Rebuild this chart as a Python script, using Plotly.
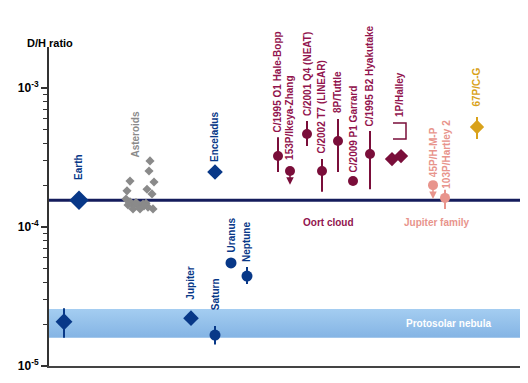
import math
import plotly.graph_objects as go

# ---------------- data ----------------
BLUE = "#083888"
GRAY = "#8a8a8a"
OORT = "#7a0e3a"
OORT_TXT = "#92144e"
JFC = "#e8948c"
GOLD = "#d9a21b"

earth_dh = 1.56e-4
protosolar_band = [1.6e-5, 2.57e-5]

# planets / moons (x = slot position along the hidden horizontal axis)
body_names = ["Protosolar", "Earth", "Jupiter", "Enceladus", "Saturn", "Uranus", "Neptune"]
body_x = [15, 30, 142, 166, 166, 182, 198]
body_dh = [2.08e-5, 1.56e-4, 2.21e-5, 2.49e-4, 1.67e-5, 5.51e-5, 4.44e-5]
body_hi = [2.6e-5, None, None, None, 1.94e-5, None, 5.15e-5]
body_lo = [1.6e-5, None, None, None, 1.43e-5, None, 3.89e-5]
body_symbol = ["diamond", "diamond", "diamond", "diamond", "circle", "circle", "circle"]
body_size = [13, 15, 12, 12, 11, 11, 11]
body_label_bottom = [None, 2.11e-4, 2.88e-5, 2.84e-4, 2.44e-5, 6.3e-5, 5.42e-5]

# asteroids
ast_x = [101, 100, 81, 105, 98, 78, 103, 77, 81, 84, 88, 91, 94, 97, 99, 84, 91, 104, 79, 87, 95]
ast_dh = [2.99e-4, 2.53e-4, 2.14e-4, 2.11e-4, 1.87e-4, 1.82e-4, 1.73e-4, 1.59e-4,
          1.52e-4, 1.44e-4, 1.46e-4, 1.41e-4, 1.46e-4, 1.48e-4, 1.39e-4, 1.35e-4,
          1.35e-4, 1.35e-4, 1.44e-4, 1.50e-4, 1.42e-4]
ast_label_x = 87

# Oort cloud comets
oort_names = ["C/1995 O1 Hale-Bopp", "153P/Ikeya-Zhang", "C/2001 Q4 (NEAT)", "C/2002 T7 (LINEAR)",
              "8P/Tuttle", "C/2009 P1 Garrard", "C/1995 B2 Hyakutake"]
oort_x = [229, 241, 258, 273, 289, 304, 321]
oort_dh = [3.24e-4, 2.53e-4, 4.67e-4, 2.53e-4, 4.16e-4, 2.14e-4, 3.35e-4]
oort_hi = [4.43e-4, None, 5.79e-4, 3.08e-4, 5.98e-4, None, 4.91e-4]
oort_lo = [2.49e-4, None, 3.83e-4, 1.79e-4, 2.49e-4, None, 1.87e-4]
oort_upper_limit = [False, True, False, False, False, False, False]
oort_label_bottom = [4.59e-4, 2.94e-4, 6.08e-4, 3.24e-4, 6.4e-4, 2.37e-4, 5.07e-4]

halley_x = [343, 352]
halley_dh = [3.08e-4, 3.24e-4]
halley_bracket = [4.3e-4, 5.6e-4]

# Jupiter-family comets
jfc_names = ["45P/H-M-P", "103P/Hartley 2"]
jfc_x = [384, 396]
jfc_dh = [2.0e-4, 1.62e-4]
jfc_hi = [None, 1.85e-4]
jfc_lo = [None, 1.35e-4]
jfc_upper_limit = [True, False]
jfc_label_bottom = [2.21e-4, 1.81e-4]

c67p_x = [428]
c67p_dh = [5.24e-4]
c67p_hi = [6.18e-4]
c67p_lo = [4.3e-4]

X_MAX = 471


def err(vals, hi, lo):
    plus = [(h - v) if h is not None else 0 for v, h in zip(vals, hi)]
    minus = [(v - l) if l is not None else 0 for v, l in zip(vals, lo)]
    return plus, minus


fig = go.Figure()

# protosolar band
fig.add_trace(go.Scatter(
    x=[0, X_MAX, X_MAX, 0, 0],
    y=[protosolar_band[0], protosolar_band[0], protosolar_band[1], protosolar_band[1], protosolar_band[0]],
    fill="toself", mode="lines", line=dict(width=0),
    fillgradient=dict(type="vertical", colorscale=[[0, "#84b4e4"], [1, "#a4cdf1"]]),
    hoverinfo="skip", showlegend=False))

# earth reference line
fig.add_trace(go.Scatter(x=[0, X_MAX], y=[earth_dh, earth_dh], mode="lines",
                         line=dict(color="#141c5c", width=3), showlegend=False, hoverinfo="skip"))

# asteroids
fig.add_trace(go.Scatter(x=ast_x, y=ast_dh, mode="markers",
                         marker=dict(symbol="diamond", size=7, color=GRAY, line=dict(width=0)),
                         showlegend=False))

# bodies
bp, bm = err(body_dh, body_hi, body_lo)
fig.add_trace(go.Scatter(x=body_x, y=body_dh, mode="markers",
                         marker=dict(symbol=body_symbol, size=body_size, color=BLUE, opacity=1,
                                     line=dict(width=0)),
                         error_y=dict(type="data", array=bp, arrayminus=bm, color=BLUE, thickness=2, width=0),
                         showlegend=False))

# Oort comets
op, om = err(oort_dh, oort_hi, oort_lo)
fig.add_trace(go.Scatter(x=oort_x, y=oort_dh, mode="markers",
                         marker=dict(symbol="circle", size=10, color=OORT, line=dict(width=0)),
                         error_y=dict(type="data", array=op, arrayminus=om, color=OORT, thickness=2, width=0),
                         showlegend=False))
fig.add_trace(go.Scatter(x=halley_x, y=halley_dh, mode="markers",
                         marker=dict(symbol="diamond", size=11, color=OORT, line=dict(width=0)),
                         showlegend=False))
# Halley bracket
bx0, bx1 = halley_x[0] + 1, halley_x[1] + 5
fig.add_trace(go.Scatter(x=[bx0, bx1, bx1, bx0],
                         y=[halley_bracket[1], halley_bracket[1], halley_bracket[0], halley_bracket[0]],
                         mode="lines", line=dict(color=OORT, width=1.5), showlegend=False, hoverinfo="skip"))

# Jupiter family
jp, jm = err(jfc_dh, jfc_hi, jfc_lo)
fig.add_trace(go.Scatter(x=jfc_x, y=jfc_dh, mode="markers",
                         marker=dict(symbol="circle", size=10, color=JFC, line=dict(width=0)),
                         error_y=dict(type="data", array=jp, arrayminus=jm, color=JFC, thickness=2, width=0),
                         showlegend=False))

# 67P
cp, cm = err(c67p_dh, c67p_hi, c67p_lo)
fig.add_trace(go.Scatter(x=c67p_x, y=c67p_dh, mode="markers",
                         marker=dict(symbol="diamond", size=11, color=GOLD, line=dict(width=0)),
                         error_y=dict(type="data", array=cp, arrayminus=cm, color=GOLD, thickness=2, width=0),
                         showlegend=False))

FONT = "Liberation Sans, Arial, sans-serif"
ann = []


def vlabel(x, ybottom, text, color, size=10):
    ann.append(dict(x=x, y=math.log10(ybottom), xref="x", yref="y", text=f"<b>{text}</b>", showarrow=False,
                    textangle=-90, xanchor="center", yanchor="bottom",
                    font=dict(family=FONT, size=size, color=color)))


for n, x, b in zip(body_names, body_x, body_label_bottom):
    if b is not None:
        vlabel(x, b, n, BLUE)
vlabel(ast_label_x, 3.03e-4, "Asteroids", GRAY)
for n, x, b in zip(oort_names, oort_x, oort_label_bottom):
    vlabel(x, b, n, OORT_TXT)
vlabel(sum(halley_x) / 2 + 3, 5.98e-4, "1P/Halley", OORT_TXT)
for n, x, b in zip(jfc_names, jfc_x, jfc_label_bottom):
    vlabel(x + (2 if n.startswith("103") else 0), b, n, JFC)
vlabel(c67p_x[0], 7.06e-4, "67P/C-G", GOLD)

# upper-limit arrows
for x, v, ul, col in zip(oort_x + jfc_x, oort_dh + jfc_dh, oort_upper_limit + jfc_upper_limit,
                         [OORT] * len(oort_x) + [JFC] * len(jfc_x)):
    if ul:
        ann.append(dict(x=x, y=math.log10(v) - 0.1, xref="x", yref="y", ax=0, ay=-11, text="",
                        showarrow=True, arrowhead=2, arrowsize=1, arrowwidth=1.5, arrowcolor=col))

# group labels
ann.append(dict(x=279, y=math.log10(1.07e-4), xref="x", yref="y", text="<b>Oort cloud</b>", showarrow=False,
                font=dict(family=FONT, size=10, color=OORT_TXT)))
ann.append(dict(x=387, y=math.log10(1.07e-4), xref="x", yref="y", text="<b>Jupiter family</b>", showarrow=False,
                font=dict(family=FONT, size=10, color=JFC)))
ann.append(dict(x=444, y=math.log10(2.03e-5), xref="x", yref="y", text="<b>Protosolar nebula</b>",
                showarrow=False, xanchor="right", font=dict(family=FONT, size=10, color="white")))

H, W = 383, 528
ML, MR, MT, MB = 49, 8, 47, 17
ann.append(dict(x=(25 - ML) / (W - ML - MR), y=1 + (MT - 43) / (H - MT - MB), xref="paper", yref="paper",
                text="<b>D/H ratio</b>", showarrow=False, xanchor="left", yanchor="middle",
                font=dict(family=FONT, size=11, color="black")))

minor_vals = [m * 10.0 ** e for e in (-5, -4, -3) for m in range(2, 10)]

fig.update_layout(
    width=W, height=H, margin=dict(l=ML, r=MR, t=MT, b=MB),
    paper_bgcolor="white", plot_bgcolor="white",
    annotations=ann,
    xaxis=dict(range=[0, X_MAX], showgrid=False, zeroline=False, showticklabels=False, ticks="",
               showline=True, linecolor="#444444", linewidth=2),
    yaxis=dict(type="log", range=[-5, -2.705], showgrid=False, zeroline=False,
               tickvals=[1e-5, 1e-4, 1e-3],
               ticktext=["<b>10<sup>-5</sup></b>", "<b>10<sup>-4</sup></b>", "<b>10<sup>-3</sup></b>"],
               ticks="outside", ticklen=6, tickwidth=1.5, tickcolor="#333333",
               tickfont=dict(family=FONT, size=12, color="black"),
               minor=dict(tickvals=minor_vals, ticks="outside", ticklen=4, tickwidth=1.2, tickcolor="#333333",
                          showgrid=False),
               showline=True, linecolor="#333333", linewidth=2),
)

fig.write_html("out.html")
